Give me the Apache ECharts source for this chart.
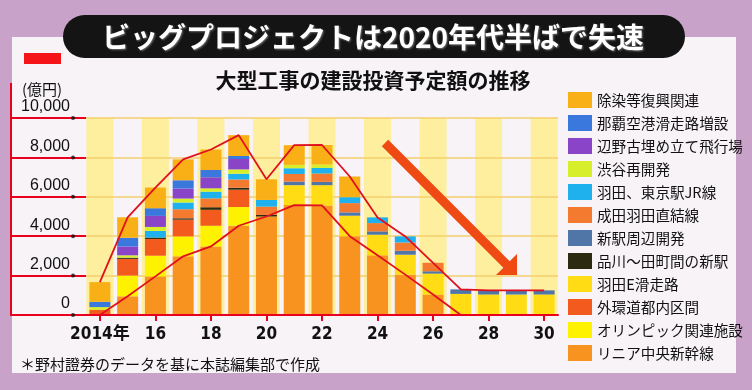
<!DOCTYPE html>
<html>
<head>
<meta charset="utf-8">
<script src="https://cdn.jsdelivr.net/npm/echarts@6/dist/echarts.min.js"></script>
<style>
html,body{margin:0;padding:0;background:#c9a2c9;}
#c{width:752px;height:390px;}
</style>
</head>
<body>
<div id="c"></div>
<script>
// ---------- data ----------
const years = ['2014','2015','2016','2017','2018','2019','2020','2021','2022','2023','2024','2025','2026','2027','2028','2029','2030'];
const xTickLabels = ['2014年','','16','','18','','20','','22','','24','','26','','28','','30'];
const yTicks = [0, 2000, 4000, 6000, 8000, 10000];
const yMax = 10000;

// stack order: bottom -> top
const seriesNames = ['リニア中央新幹線','オリンピック関連施設','外環道都内区間','羽田E滑走路','品川～田町間の新駅','新駅周辺開発','成田羽田直結線','羽田、東京駅JR線','渋谷再開発','辺野古埋め立て飛行場','那覇空港滑走路増設','除染等復興関連'];

const linear       = [0, 950, 1960, 2980, 3480, 4530, 5000, 5580, 5560, 4000, 3030, 2050, 1040, 0, 0, 0, 0];
const olympic      = [0, 1050, 1050, 1010, 1050, 950, 0, 0, 0, 0, 0, 0, 0, 0, 0, 0, 0];
const gaikan       = [270, 850, 850, 850, 810, 880, 0, 0, 0, 0, 0, 0, 0, 0, 0, 0, 0];
const hanedaE      = [0, 0, 0, 0, 0, 0, 0, 1010, 1030, 1040, 1045, 1010, 1060, 1070, 1040, 1040, 1040];
const shinagawa    = [0, 60, 70, 70, 130, 100, 80, 0, 0, 0, 0, 0, 0, 0, 0, 0, 0];
const shinEki      = [0, 0, 0, 0, 0, 0, 0, 180, 170, 170, 170, 200, 120, 230, 210, 210, 210];
const naritaHaneda = [0, 0, 0, 460, 450, 420, 420, 390, 420, 470, 420, 420, 430, 0, 0, 0, 0];
const jrLine       = [0, 0, 340, 340, 340, 290, 340, 290, 290, 300, 290, 310, 0, 0, 0, 0, 0];
const shibuya      = [130, 120, 200, 200, 170, 220, 0, 170, 170, 0, 0, 0, 0, 0, 0, 0, 0];
const henoko       = [0, 450, 560, 510, 560, 530, 0, 0, 0, 0, 0, 0, 0, 0, 0, 0, 0];
const naha         = [270, 440, 390, 420, 370, 150, 0, 0, 0, 0, 0, 0, 0, 0, 0, 0, 0];
const josen        = [1000, 1040, 1050, 1060, 1040, 1060, 1050, 1000, 990, 1050, 0, 0, 0, 0, 0, 0, 0];

const seriesValues = [linear, olympic, gaikan, hanedaE, shinagawa, shinEki, naritaHaneda, jrLine, shibuya, henoko, naha, josen];

// ---------- styles ----------
const colors = ['#f7931e','#fff200','#f25a1e','#ffdc14','#2d2a12','#5076a8','#f47a30','#1fb0ee','#d7ef2a','#8a44c8','#3a78de','#f9b016'];
const RED = '#e8001c';
const JP = '"Noto Sans CJK JP", "Noto Sans CJK SC", sans-serif';

const totals = years.map((_, i) => seriesValues.reduce((s, arr) => s + arr[i], 0));
let lastLin = 0;
linear.forEach((v, i) => { if (v > 0) lastLin = i; });
const linearLine = linear.map((v, i) => (i <= lastLin + 1 ? v : '-'));
const bgColumns = years.map((_, i) => (i % 2 === 0 ? yMax : '-'));

const chart = echarts.init(document.getElementById('c'));

const barSeries = seriesNames.map((name, k) => ({
  name: name,
  type: 'bar',
  stack: 'total',
  xAxisIndex: 0, yAxisIndex: 0,
  barWidth: 21,
  z: 2,
  itemStyle: { color: colors[k] },
  emphasis: { disabled: true },
  data: seriesValues[k].map(v => (v > 0 ? v : '-'))
}));

// arrow geometry (decoration)
const tail = [385, 143], tip = [517, 275];
const dx = tip[0] - tail[0], dy = tip[1] - tail[1];
const L = Math.sqrt(dx * dx + dy * dy);
const ux = dx / L, uy = dy / L;
const hw = 4.5, head = 21;
const nx = -uy * hw, ny = ux * hw;
const c1 = [tip[0] - head, tip[1]], c2 = [tip[0], tip[1] - head];
const bm = [(c1[0] + c2[0]) / 2, (c1[1] + c2[1]) / 2];
const arrowPts = [
  [tail[0] + nx, tail[1] + ny], [bm[0] + nx, bm[1] + ny], c1, tip, c2,
  [bm[0] - nx, bm[1] - ny], [tail[0] - nx, tail[1] - ny]
];

const option = {
  backgroundColor: '#c9a2c9',
  animation: false,
  grid: [
    { left: 86, right: 194, top: 118, bottom: 75 },
    { left: 71, width: 4, top: 118, bottom: 75 }
  ],
  legend: {
    data: seriesNames.slice().reverse(),
    orient: 'vertical',
    left: 568, top: 92, padding: 0,
    itemWidth: 24, itemHeight: 16, itemGap: 7,
    icon: 'rect',
    selectedMode: false,
    textStyle: { fontSize: 14.6, color: '#111', fontFamily: JP }
  },
  xAxis: [
    {
      type: 'category', data: years, gridIndex: 0, z: 5,
      axisLine: { lineStyle: { color: RED, width: 2 } },
      axisTick: { show: true, alignWithLabel: true, interval: 1, length: 6, lineStyle: { color: RED, width: 2 } },
      axisLabel: {
        interval: 0, margin: 11,
        formatter: (v, i) => xTickLabels[i],
        fontFamily: '"Liberation Sans Narrow", "DejaVu Sans Condensed", "Noto Sans CJK JP", sans-serif',
        fontWeight: 'bold', fontSize: 17, color: '#111'
      },
      splitLine: { show: false }
    },
    {
      type: 'category', data: years, gridIndex: 0, show: false
    },
    {
      type: 'value', gridIndex: 1, min: 0, max: 1, show: false
    }
  ],
  yAxis: [
    {
      type: 'value', gridIndex: 0, min: 0, max: yMax, interval: 2000, z: 1.5,
      axisLine: { show: false },
      axisTick: { show: true, length: 75, lineStyle: { color: RED, width: 2 } },
      axisLabel: {
        margin: 16, fontSize: 16, color: '#111',
        fontFamily: '"Liberation Sans", Arial, sans-serif',
        verticalAlign: 'bottom', padding: [0, 0, 3, 0],
        formatter: v => v.toLocaleString('en-US')
      },
      splitLine: { lineStyle: { color: '#f3cf6e', width: 1.5 } }
    },
    {
      type: 'value', gridIndex: 1, min: 0, max: yMax, show: false
    }
  ],
  series: [
    {
      name: 'bg', type: 'bar', xAxisIndex: 1, yAxisIndex: 0,
      barWidth: 27, z: 1, silent: true,
      itemStyle: { color: '#fdef9e' },
      data: bgColumns
    },
    ...barSeries,
    {
      name: 'total', type: 'line', xAxisIndex: 0, yAxisIndex: 0, z: 4,
      symbol: 'none', silent: true,
      lineStyle: { color: '#e0101e', width: 1.8 },
      data: totals
    },
    {
      name: 'linearLine', type: 'line', xAxisIndex: 0, yAxisIndex: 0, z: 4,
      symbol: 'none', silent: true,
      lineStyle: { color: '#e0101e', width: 1.8 },
      data: linearLine
    },
    {
      name: 'dots', type: 'scatter', xAxisIndex: 2, yAxisIndex: 1, z: 6,
      symbolSize: 4, silent: true,
      itemStyle: { color: '#111' },
      data: yTicks.map(v => [0.5, v])
    }
  ],
  graphic: [
    { type: 'rect', z: -100, silent: true, shape: { x: 12, y: 37, width: 724, height: 336 }, style: { fill: '#f7f3f7' } },
    { type: 'rect', z: 10, silent: true, shape: { x: 63, y: 15, width: 622, height: 43, r: 21.5 }, style: { fill: '#141414' } },
    { type: 'text', z: 11, silent: true, style: {
        text: 'ビッグプロジェクトは2020年代半ばで失速', x: 373, y: 37,
        fill: '#ffffff', font: 'bold 28px "Noto Sans CJK JP"', align: 'center', verticalAlign: 'middle',
        textShadowColor: 'rgba(120,120,120,0.9)', textShadowBlur: 2, textShadowOffsetX: 1, textShadowOffsetY: 1
    } },
    { type: 'rect', z: 10, silent: true, shape: { x: 24, y: 53, width: 37, height: 11 }, style: { fill: '#f51418' } },
    { type: 'text', z: 10, silent: true, style: {
        text: '大型工事の建設投資予定額の推移', x: 373, y: 80,
        fill: '#111', font: 'bold 21px "Noto Sans CJK JP"', align: 'center', verticalAlign: 'middle'
    } },
    { type: 'text', z: 10, silent: true, style: {
        text: '(億円)', x: 22, y: 89, fill: '#111', font: '15px "Noto Sans CJK JP"', align: 'left', verticalAlign: 'middle'
    } },
    { type: 'line', z: 10, silent: true, shape: { x1: 11, y1: 83, x2: 11, y2: 316 }, style: { stroke: RED, lineWidth: 2 } },
    { type: 'text', z: 10, silent: true, style: {
        text: '＊野村證券のデータを基に本誌編集部で作成', x: 20, y: 364, fill: '#111',
        font: '15px "Noto Sans CJK JP"', align: 'left', verticalAlign: 'middle'
    } },
    { type: 'polygon', z: 20, silent: true, shape: { points: arrowPts }, style: { fill: '#f04a14' } }
  ]
};
chart.setOption(option);
</script>
</body>
</html>
